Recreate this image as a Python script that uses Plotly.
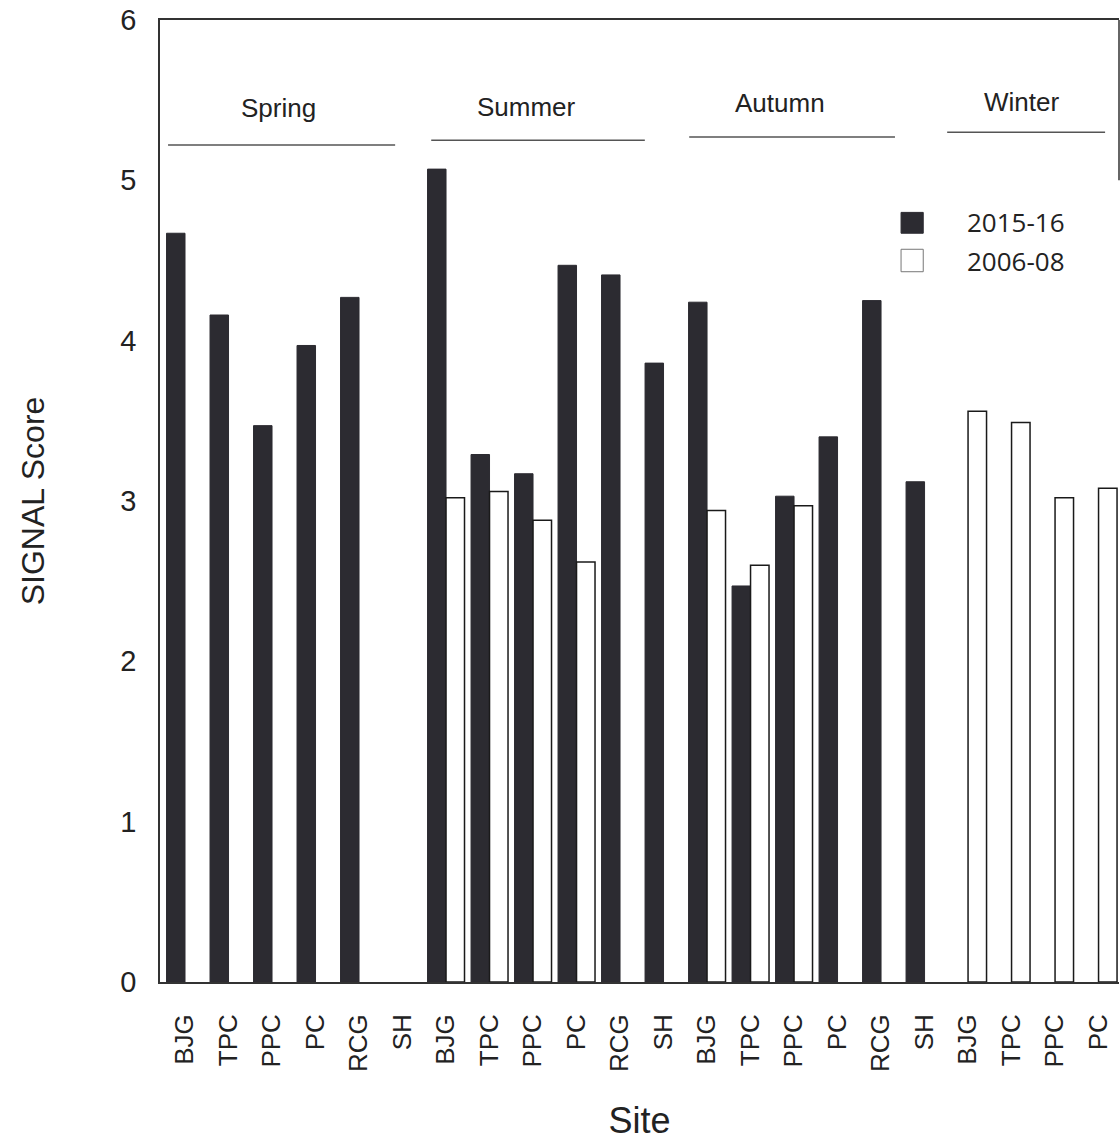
import plotly.graph_objects as go

# Sites sampled in each season (Winter sampling shown for four sites)
seasons = ["Spring", "Summer", "Autumn", "Winter"]
spring_sites = ["BJG", "TPC", "PPC", "PC", "RCG", "SH"]
summer_sites = ["BJG", "TPC", "PPC", "PC", "RCG", "SH"]
autumn_sites = ["BJG", "TPC", "PPC", "PC", "RCG", "SH"]
winter_sites = ["BJG", "TPC", "PPC", "PC"]
site_labels = spring_sites + summer_sites + autumn_sites + winter_sites

# SIGNAL scores, 2015-16 survey (None = not sampled)
score_2015_16 = [4.67, 4.16, 3.47, 3.97, 4.27, None,
                 5.07, 3.29, 3.17, 4.47, 4.41, 3.86,
                 4.24, 2.47, 3.03, 3.40, 4.25, 3.12,
                 None, None, None, None]

# SIGNAL scores, 2006-08 survey
score_2006_08 = [None, None, None, None, None, None,
                 3.02, 3.06, 2.88, 2.62, None, None,
                 2.94, 2.60, 2.97, None, None, None,
                 3.56, 3.49, 3.02, 3.08]

# Season header spans (site index range) and label centres
season_span_start = [-0.39, 5.66, 11.59, 17.52]
season_span_end = [4.83, 10.57, 16.32, 21.15]
season_label_x = [2.14, 7.84, 13.68, 19.24]
season_line_y = [5.22, 5.25, 5.27, 5.30]
season_label_y = [5.45, 5.46, 5.48, 5.49]

legend_names = ["2015-16", "2006-08"]

DARK = "#2c2b31"
x_pos = list(range(len(site_labels)))

fig = go.Figure()
fig.add_trace(go.Bar(
    x=x_pos, y=score_2015_16, name=legend_names[0],
    marker=dict(color=DARK, line=dict(color=DARK, width=1)),
    showlegend=False,
))
fig.add_trace(go.Bar(
    x=x_pos, y=score_2006_08, name=legend_names[1],
    marker=dict(color="white", line=dict(color="#1a1a1a", width=1.5)),
    showlegend=False,
))

shapes = []
annotations = []

# Season headers: label with a rule beneath
for name, x0, x1, lx, ly, ty in zip(seasons, season_span_start, season_span_end,
                                    season_label_x, season_line_y, season_label_y):
    shapes.append(dict(type="line", xref="x", yref="y", x0=x0, x1=x1, y0=ly, y1=ly,
                       line=dict(color="#555555", width=1.5)))
    annotations.append(dict(x=lx, y=ty, xref="x", yref="y", text=name, showarrow=False,
                            font=dict(family="Liberation Sans, Arial, sans-serif",
                                      size=26, color="#222222")))

# Hand-drawn legend key
legend_fill = [DARK, "white"]
legend_line = [DARK, "#777777"]
legend_box_y = [(4.67, 4.80), (4.43, 4.57)]
legend_text_y = [4.74, 4.50]
for fill, edge, (y0, y1), ty, label in zip(legend_fill, legend_line, legend_box_y,
                                           legend_text_y, legend_names):
    shapes.append(dict(type="rect", xref="x", yref="y", x0=16.46, x1=16.97, y0=y0, y1=y1,
                       fillcolor=fill, line=dict(color=edge, width=1)))
    annotations.append(dict(x=17.93, y=ty, xref="x", yref="y", text=label, showarrow=False,
                            xanchor="left",
                            font=dict(family="Open Sans, DejaVu Sans, sans-serif",
                                      size=26, color="#222222")))

# Right frame edge near the top
shapes.append(dict(type="line", xref="paper", yref="y", x0=1, x1=1, y0=5.0, y1=6.0,
                   line=dict(color="#333333", width=1.5)))

fig.update_layout(
    width=1120, height=1141,
    margin=dict(l=160, r=1, t=20, b=159),
    paper_bgcolor="white", plot_bgcolor="white",
    barmode="group", bargap=0.15, bargroupgap=0.0,
    shapes=shapes, annotations=annotations,
    font=dict(family="Liberation Sans, Arial, sans-serif", color="#222222"),
    xaxis=dict(
        range=[-0.575, 21.47],
        tickmode="array", tickvals=x_pos, ticktext=site_labels,
        tickangle=-90, tickfont=dict(size=26, color="#222222"),
        showline=True, linecolor="#333333", linewidth=1.5, mirror=True,
        ticks="outside", ticklen=20, tickcolor="rgba(0,0,0,0)",
        showgrid=False, zeroline=False,
        title=dict(text="Site", font=dict(size=36, color="#222222"), standoff=38),
    ),
    yaxis=dict(
        range=[0, 6], tickmode="array", tickvals=[0, 1, 2, 3, 4, 5, 6],
        tickfont=dict(size=29, color="#222222"),
        showline=True, linecolor="#333333", linewidth=1.5,
        ticks="outside", ticklen=16, tickcolor="rgba(0,0,0,0)",
        showgrid=False, zeroline=False,
        title=dict(text="SIGNAL Score", font=dict(size=32, color="#222222"), standoff=66),
    ),
)

fig.write_html("out.html")
